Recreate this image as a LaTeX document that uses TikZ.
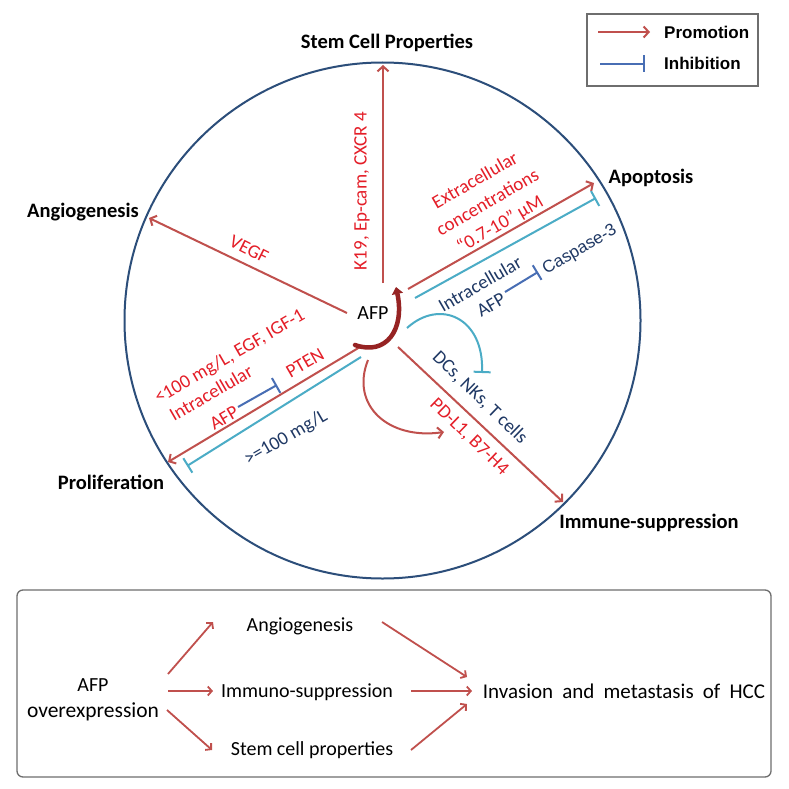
\documentclass[tikz,border=0pt]{standalone}
\usepackage{fontspec}
\setmainfont{Carlito}
\newfontfamily\arialf{Liberation Sans}
\usetikzlibrary{arrows.meta,calc}
\definecolor{promored}{RGB}{192,80,77}
\definecolor{lblred}{RGB}{228,30,40}
\definecolor{tealc}{RGB}{75,172,198}
\definecolor{navyc}{RGB}{31,56,100}
\definecolor{inhblue}{RGB}{72,110,180}
\definecolor{circc}{RGB}{44,78,122}
\definecolor{darkred}{RGB}{150,35,35}
\definecolor{boxgray}{RGB}{110,110,110}
\begin{document}
\begin{tikzpicture}[x=1pt,y=-1pt,
  promo/.style={draw=promored, line width=2pt, -{Straight Barb[length=5pt,width=11pt]}},
  tealinh/.style={draw=tealc, line width=2pt, -{Bar[width=17pt]}},
  blueinh/.style={draw=inhblue, line width=2pt, -{Bar[width=17pt]}},
  lbl/.style={inner sep=0pt, font=\fontsize{19}{23}\selectfont},
  redlbl/.style={lbl, text=lblred},
  navylbl/.style={lbl, text=navyc},
  title/.style={inner sep=0pt, font=\bfseries\fontsize{20.5}{24}\selectfont},
  legtext/.style={inner sep=0pt, anchor=west, font=\arialf\bfseries\fontsize{17}{20}\selectfont},
  boxtext/.style={inner sep=0pt, font=\fontsize{20}{24}\selectfont, align=center},
  boxarrow/.style={draw=promored, line width=1.8pt, -{Straight Barb[length=4pt,width=9pt]}}
]
\useasboundingbox (0,0) rectangle (789,789);
\fill[white] (0,0) rectangle (789,789);

% circle
\draw[circc, line width=2pt] (382.5,320.5) circle[radius=258];

% central node
\node[inner sep=0pt, font=\fontsize{20}{24}\selectfont] (afp) at (373,313) {AFP};

% outer labels
\node[title] (stem) at (387,43) {Stem Cell Properties};
\node[title] (angio) at (83,212) {Angiogenesis};
\node[title] (prolif) at (111,482) {Proliferation};
\node[title] (apop) at (651,178) {Apoptosis};
\node[title] (immune) at (649,523) {Immune-suppression};

% arrow end points
\coordinate (stemS) at (383,283);
\coordinate (stemE) at (383,65);
\coordinate (angS) at (347,313);
\coordinate (angE) at (149,218);
\coordinate (apS) at (408,289);
\coordinate (apE) at (594,183);
\coordinate (apiS) at (415,298);
\coordinate (apiE) at (596,198);
\coordinate (imS) at (398,347);
\coordinate (imE) at (563,502);
\coordinate (prS) at (360,347);
\coordinate (prE) at (168,462);
\coordinate (priS) at (361,357);
\coordinate (priE) at (187,466);

\draw[promo] (stemS) -- (stemE);
\draw[promo] (angS) -- (angE);
\draw[promo] (apS) -- (apE);
\draw[tealinh] (apiS) -- (apiE);
\draw[promo] (imS) -- (imE);
\draw[promo] (prS) -- (prE);
\draw[tealinh] (priS) -- (priE);

% curved arrows near AFP
\coordinate (cS) at (355,345);
\coordinate (cE) at (396,287);
\draw[darkred, line width=4.5pt, line cap=round, -{Triangle[length=7pt,width=11pt]}]
  (cS) .. controls (386,356) and (405,330) .. (cE);
\coordinate (tS) at (407,328);
\coordinate (tE) at (482,373);
\draw[tealinh] (tS) .. controls (440,298) and (484,318) .. (tE);
\coordinate (pS) at (368,360);
\coordinate (pE) at (444,432);
\draw[promo] (pS) .. controls (350,405) and (388,440) .. (pE);

% labels on arrows
\node[redlbl, rotate=90] (k19) at (362,191) {K19, Ep-cam, CXCR 4};
\node[redlbl, rotate=-27] (vegf) at (249,249) {VEGF};
\node[redlbl, rotate=30, align=center, font=\fontsize{19}{25}\selectfont] (extra) at (488,203)
  {Extracellular\\concentrations\\“0.7-10” μM};
\node[navylbl, rotate=30] (intra1) at (480,284) {Intracellular};
\node[navylbl, rotate=30] (afp1) at (491,305) {AFP};
\node[inner sep=0pt, text=navyc, rotate=30, font=\arialf\fontsize{17}{20}\selectfont] (casp) at (580,250) {Caspase-3};
\coordinate (c3S) at (505,292);
\coordinate (c3E) at (538,272);
\draw[blueinh] (c3S) -- (c3E);
\node[navylbl, rotate=-44] (dcs) at (480,398) {DCs, NKs, T cells};
\node[redlbl, rotate=-44] (pdl) at (469,437) {PD-L1, B7-H4};
\node[redlbl, rotate=30] (lt100) at (230,357) {<100 mg/L, EGF, IGF-1};
\node[redlbl, rotate=30] (intra2) at (211,393) {Intracellular};
\node[redlbl, rotate=30] (afp2) at (224,418) {AFP};
\node[redlbl, rotate=30] (pten) at (305,363) {PTEN};
\node[navylbl, rotate=30] (ge100) at (286,438) {>=100 mg/L};
\coordinate (ptS) at (238,407);
\coordinate (ptE) at (277,385);
\draw[blueinh] (ptS) -- (ptE);

% legend
\draw[boxgray, line width=1.2pt] (587,14) rectangle (758,86);
\coordinate (lg1S) at (598,32);
\coordinate (lg1E) at (650,32);
\coordinate (lg2S) at (600,64);
\coordinate (lg2E) at (645,64);
\draw[promo] (lg1S) -- (lg1E);
\draw[blueinh] (lg2S) -- (lg2E);
\node[legtext] (lprom) at (664,32) {Promotion};
\node[legtext] (linh) at (664,63) {Inhibition};

% bottom box
\draw[boxgray, line width=1.3pt, rounded corners=6pt] (17,590) rectangle (771,777);
\node[boxtext] (bafp) at (93,685) {AFP};
\node[boxtext, font=\fontsize{21.5}{24}\selectfont] (bover) at (93,712) {overexpression};
\node[boxtext] (bang) at (300,626) {Angiogenesis};
\node[boxtext] (bimm) at (307,692) {Immuno-suppression};
\node[boxtext] (bstem) at (312,750) {Stem cell properties};
\node[boxtext, font=\fontsize{21}{24}\selectfont] (binv) at (624,691) {\spaceskip=9.2pt plus 1pt\relax Invasion and metastasis of HCC};
\coordinate (b1S) at (168,674); \coordinate (b1E) at (213,622);
\coordinate (b2S) at (168,691); \coordinate (b2E) at (213,691);
\coordinate (b3S) at (167,710); \coordinate (b3E) at (212,750);
\coordinate (b4S) at (382,622); \coordinate (b4E) at (467,677);
\coordinate (b5S) at (411,691); \coordinate (b5E) at (472,691);
\coordinate (b6S) at (411,750); \coordinate (b6E) at (467,704);
\draw[boxarrow] (b1S) -- (b1E);
\draw[boxarrow] (b2S) -- (b2E);
\draw[boxarrow] (b3S) -- (b3E);
\draw[boxarrow] (b4S) -- (b4E);
\draw[boxarrow] (b5S) -- (b5E);
\draw[boxarrow] (b6S) -- (b6E);
\end{tikzpicture}
\end{document}
